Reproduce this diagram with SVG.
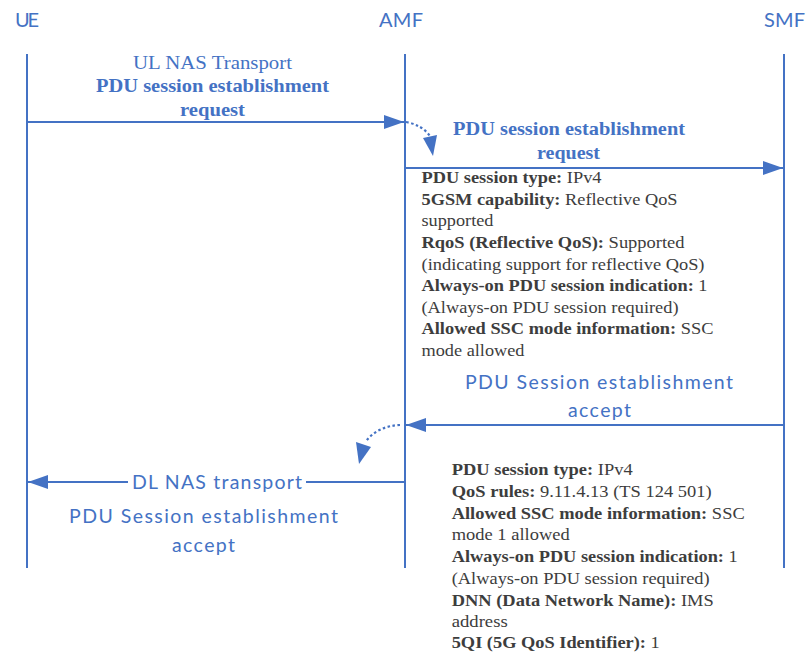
<svg xmlns="http://www.w3.org/2000/svg" width="807" height="655" viewBox="0 0 807 655">
<defs>
<style>
.life{stroke:#4472C4;stroke-width:2;fill:none}
.msg{stroke:#4472C4;stroke-width:2;fill:none}
.dot{stroke:#4472C4;stroke-width:2.2;fill:none;stroke-dasharray:2.5 2.5}
.hdr{font-family:Lato,"Open Sans",sans-serif;font-size:20px;fill:#4472C4}
.cal{font-family:Lato,"Open Sans",sans-serif;font-size:19.5px;fill:#4472C4}
.ser{font-family:"Liberation Serif",serif;font-size:19px;fill:#4472C4}
.serb{font-family:"Liberation Serif",serif;font-size:19px;font-weight:bold;fill:#4472C4}
.blk{font-family:"Liberation Serif",serif;font-size:16.8px;fill:#3d3d3d}
.b{font-weight:bold}
</style>
<marker id="ah2" markerWidth="20" markerHeight="14" refX="20" refY="7" orient="auto" markerUnits="userSpaceOnUse" viewBox="0 0 20 14">
<path d="M0,0 L20,7 L0,14 z" fill="#4472C4"/>
</marker>
</defs>
<rect width="807" height="655" fill="#ffffff"/>
<g id="UE">
<text class="hdr" x="15" y="27" textLength="24">UE</text>
<line class="life" x1="27" y1="54" x2="27" y2="568"/>
</g>
<g id="AMF">
<text class="hdr" x="379" y="27" textLength="44">AMF</text>
<line class="life" x1="405" y1="54" x2="405" y2="568"/>
</g>
<g id="SMF">
<text class="hdr" x="764" y="27" textLength="41">SMF</text>
<line class="life" x1="784" y1="54" x2="784" y2="568"/>
</g>
<g id="connectors">
<line class="msg" x1="27" y1="122" x2="404" y2="122" marker-end="url(#ah2)"/>
<path class="dot" d="M406,122 Q422,125 430,136"/>
<path d="M423,138 L437,135 L433,156 z" fill="#4472C4"/>
<line class="msg" x1="405" y1="168" x2="783" y2="168" marker-end="url(#ah2)"/>
<line class="msg" x1="784" y1="425" x2="406" y2="425" marker-end="url(#ah2)"/>
<path class="dot" d="M400,425 Q378,426 366,441"/>
<path d="M356,442 L371,447 L359,464 z" fill="#4472C4"/>
<line class="msg" x1="405" y1="482" x2="28" y2="482" marker-end="url(#ah2)"/>
</g>
<g id="msg1-label">
<text class="ser" x="133" y="69" textLength="159" lengthAdjust="spacingAndGlyphs">UL NAS Transport</text>
<text class="serb" x="96" y="92" textLength="233" lengthAdjust="spacingAndGlyphs">PDU session establishment</text>
<text class="serb" x="180" y="116" textLength="65" lengthAdjust="spacingAndGlyphs">request</text>
</g>
<g id="msg2-label">
<text class="serb" x="453" y="135" textLength="232" lengthAdjust="spacingAndGlyphs">PDU session establishment</text>
<text class="serb" x="537" y="159" textLength="63" lengthAdjust="spacingAndGlyphs">request</text>
</g>
<g id="req-params">
<text class="blk" x="421.5" y="183" textLength="180" lengthAdjust="spacingAndGlyphs"><tspan class="b">PDU session type:</tspan> IPv4</text>
<text class="blk" x="421.5" y="205" textLength="256" lengthAdjust="spacingAndGlyphs"><tspan class="b">5GSM capability:</tspan> Reflective QoS</text>
<text class="blk" x="421.5" y="226" textLength="72" lengthAdjust="spacingAndGlyphs">supported</text>
<text class="blk" x="421.5" y="248" textLength="263" lengthAdjust="spacingAndGlyphs"><tspan class="b">RqoS (Reflective QoS):</tspan> Supported</text>
<text class="blk" x="421.5" y="270" textLength="283" lengthAdjust="spacingAndGlyphs">(indicating support for reflective QoS)</text>
<text class="blk" x="421.5" y="291" textLength="286" lengthAdjust="spacingAndGlyphs"><tspan class="b">Always-on PDU session indication:</tspan> 1</text>
<text class="blk" x="421.5" y="313" textLength="257" lengthAdjust="spacingAndGlyphs">(Always-on PDU session required)</text>
<text class="blk" x="421.5" y="334" textLength="292" lengthAdjust="spacingAndGlyphs"><tspan class="b">Allowed SSC mode information:</tspan> SSC</text>
<text class="blk" x="421.5" y="356" textLength="103" lengthAdjust="spacingAndGlyphs">mode allowed</text>
</g>
<g id="msg3-label">
<text class="cal" x="465" y="389" textLength="268">PDU Session establishment</text>
<text class="cal" x="568" y="417" textLength="63">accept</text>
</g>
<g id="msg4-label">
<rect x="128" y="470" width="178" height="24" fill="#ffffff"/>
<text class="cal" x="132" y="489" textLength="170">DL NAS transport</text>
<text class="cal" x="69" y="523" textLength="269">PDU Session establishment</text>
<text class="cal" x="172" y="552" textLength="63">accept</text>
</g>
<g id="accept-params">
<text class="blk" x="451.7" y="475" textLength="181" lengthAdjust="spacingAndGlyphs"><tspan class="b">PDU session type:</tspan> IPv4</text>
<text class="blk" x="451.7" y="497" textLength="260" lengthAdjust="spacingAndGlyphs"><tspan class="b">QoS rules:</tspan> 9.11.4.13 (TS 124 501)</text>
<text class="blk" x="451.7" y="519" textLength="293" lengthAdjust="spacingAndGlyphs"><tspan class="b">Allowed SSC mode information:</tspan> SSC</text>
<text class="blk" x="451.7" y="540" textLength="118" lengthAdjust="spacingAndGlyphs">mode 1 allowed</text>
<text class="blk" x="451.7" y="562" textLength="286" lengthAdjust="spacingAndGlyphs"><tspan class="b">Always-on PDU session indication:</tspan> 1</text>
<text class="blk" x="451.7" y="584" textLength="258" lengthAdjust="spacingAndGlyphs">(Always-on PDU session required)</text>
<text class="blk" x="451.7" y="606" textLength="262" lengthAdjust="spacingAndGlyphs"><tspan class="b">DNN (Data Network Name):</tspan> IMS</text>
<text class="blk" x="451.7" y="627" textLength="56" lengthAdjust="spacingAndGlyphs">address</text>
<text class="blk" x="451.7" y="648" textLength="208" lengthAdjust="spacingAndGlyphs"><tspan class="b">5QI (5G QoS Identifier):</tspan> 1</text>
</g>
</svg>
